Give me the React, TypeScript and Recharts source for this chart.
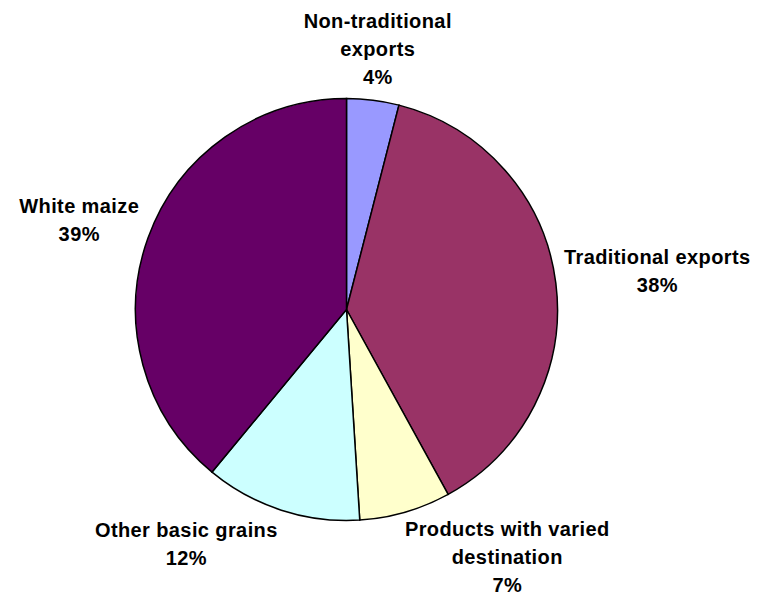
import React from 'react'
import { PieChart, Pie, Cell } from 'recharts'

// categories, with the line breaks used in the labels
const CATEGORIES = [
  'Non-traditional\nexports',
  'Traditional exports',
  'Products with varied\ndestination',
  'Other basic grains',
  'White maize',
]
const SHARES = [4, 38, 7, 12, 39]
const SLICE_COLORS = ['#9999FF', '#993366', '#FFFFCC', '#CCFFFF', '#660066']

// small hand nudges for the label boxes (Excel moved the bottom ones outwards)
const LABEL_NUDGE: [number, number][] = [[-6, -5], [-3, -8], [70, 0], [-63, 2], [-1, -7]]

const FONT_SIZE = 20
const LETTER_SPACING = 0.4
const LINE_HEIGHT = 28
const CAP_HEIGHT = 14
const FONT = '"Liberation Sans", Arial, sans-serif'

const data = CATEGORIES.map((name, i) => ({ name, value: SHARES[i] }))

let ctx: CanvasRenderingContext2D | null = null
function textWidth(s: string) {
  if (!ctx) {
    ctx = document.createElement('canvas').getContext('2d')
    if (ctx) ctx.font = `bold ${FONT_SIZE}px "Liberation Sans"`
  }
  const w = ctx ? ctx.measureText(s).width : s.length * 11
  return w + LETTER_SPACING * s.length
}

const RADIAN = Math.PI / 180

function renderLabel(props: any) {
  const { cx, cy, midAngle, outerRadius, index, name, value } = props
  const lines = [...String(name).split('\n'), `${value}%`]
  const w = Math.max(...lines.map(textWidth))
  const h = (lines.length - 1) * LINE_HEIGHT + CAP_HEIGHT
  const cos = Math.cos(-midAngle * RADIAN)
  const sin = Math.sin(-midAngle * RADIAN)
  const r = outerRadius + 12
  const [nx, ny] = LABEL_NUDGE[index] ?? [0, 0]
  const bx = cx + r * cos + (w / 2) * cos + nx
  const by = cy + r * sin + (h / 2) * sin + ny
  const top = by - h / 2
  return (
    <text
      key={index}
      x={bx}
      y={top + CAP_HEIGHT}
      textAnchor="middle"
      fill="#000"
      fontFamily={FONT}
      fontSize={FONT_SIZE}
      fontWeight="bold"
      letterSpacing={LETTER_SPACING}
    >
      {lines.map((ln, i) => (
        <tspan key={i} x={bx} dy={i === 0 ? 0 : LINE_HEIGHT}>{ln}</tspan>
      ))}
    </text>
  )
}

export default function App() {
  return (
    // pull the chart over the body's 8px margin so it fills the window
    <div style={{ width: 758, height: 596, margin: '-8px 0 0 -8px', background: '#fff' }}>
      <PieChart width={758} height={596} margin={{ top: 0, right: 0, bottom: 0, left: 0 }}>
        <Pie
          data={data}
          dataKey="value"
          nameKey="name"
          cx={346.5}
          cy={309.5}
          outerRadius={211}
          startAngle={90}
          endAngle={-270}
          stroke="#000"
          strokeWidth={1.5}
          label={renderLabel}
          labelLine={false}
          isAnimationActive={false}
        >
          {data.map((d, i) => (
            <Cell key={d.name} fill={SLICE_COLORS[i]} />
          ))}
        </Pie>
      </PieChart>
    </div>
  )
}
